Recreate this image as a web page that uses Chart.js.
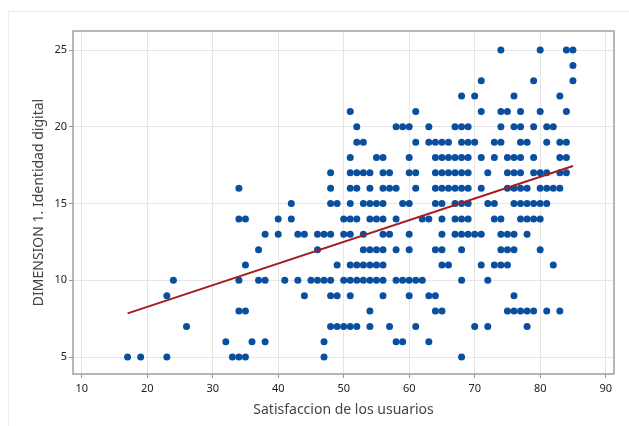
<!DOCTYPE html>
<html>
<head>
<meta charset="utf-8">
<script src="https://cdn.jsdelivr.net/npm/chart.js@4.4.1/dist/chart.umd.min.js"></script>
<style>
html,body{margin:0;padding:0;background:#fff;}
#wrap{position:relative;width:629px;height:426px;}
canvas{display:block;}
</style>
</head>
<body>
<div id="wrap"><canvas id="c" width="629" height="426"></canvas></div>
<script>
// Satisfaccion (x) values for each DIMENSION 1 level (y)
const xAtY25 = [74, 80, 84, 85];
const xAtY24 = [85];
const xAtY23 = [71, 79, 85];
const xAtY22 = [68, 70, 76, 83];
const xAtY21 = [51, 61, 71, 74, 75, 77, 80, 84];
const xAtY20 = [52, 58, 59, 60, 63, 67, 68, 69, 74, 76, 77, 79, 81, 82];
const xAtY19 = [52, 53, 61, 63, 64, 65, 66, 68, 69, 70, 73, 74, 77, 78, 81, 83, 84];
const xAtY18 = [51, 55, 56, 60, 64, 65, 66, 67, 68, 69, 71, 73, 75, 76, 77, 79, 83, 84];
const xAtY17 = [48, 51, 52, 53, 54, 56, 57, 60, 61, 64, 65, 66, 67, 68, 69, 72, 75, 76, 77, 79, 80, 81, 83, 84];
const xAtY16 = [34, 48, 51, 52, 54, 56, 57, 58, 61, 64, 65, 66, 67, 68, 69, 71, 75, 76, 77, 78, 80, 81, 82, 83];
const xAtY15 = [42, 48, 49, 51, 53, 54, 55, 56, 59, 60, 64, 65, 67, 68, 69, 72, 73, 76, 77, 78, 79, 80, 81];
const xAtY14 = [34, 35, 40, 42, 50, 51, 52, 54, 55, 56, 58, 62, 63, 65, 67, 68, 69, 73, 74, 77, 78, 79, 80];
const xAtY13 = [38, 40, 43, 44, 46, 47, 48, 50, 51, 53, 56, 57, 60, 65, 67, 68, 69, 70, 71, 74, 75, 76, 78];
const xAtY12 = [37, 46, 53, 54, 55, 56, 58, 60, 64, 65, 68, 74, 75, 76, 80];
const xAtY11 = [35, 49, 51, 52, 53, 54, 55, 56, 65, 66, 71, 73, 74, 75, 82];
const xAtY10 = [24, 34, 37, 38, 41, 43, 45, 46, 47, 48, 50, 51, 52, 53, 54, 55, 56, 58, 59, 60, 61, 62, 68, 72];
const xAtY9  = [23, 44, 48, 49, 51, 56, 60, 63, 64, 76];
const xAtY8  = [34, 35, 54, 64, 65, 75, 76, 77, 78, 79, 81, 83];
const xAtY7  = [26, 48, 49, 50, 51, 52, 54, 57, 61, 70, 72, 78];
const xAtY6  = [32, 36, 38, 47, 58, 59, 63];
const xAtY5  = [17, 19, 23, 33, 34, 35, 47, 68];

const yLevels = [25, 24, 23, 22, 21, 20, 19, 18, 17, 16, 15, 14, 13, 12, 11, 10, 9, 8, 7, 6, 5];
const xRows = [xAtY25, xAtY24, xAtY23, xAtY22, xAtY21, xAtY20, xAtY19, xAtY18, xAtY17, xAtY16,
               xAtY15, xAtY14, xAtY13, xAtY12, xAtY11, xAtY10, xAtY9, xAtY8, xAtY7, xAtY6, xAtY5];

// Fitted line end points
const fitX = [17, 85];
const fitY = [7.85, 17.45];

const xTickValues = [10, 20, 30, 40, 50, 60, 70, 80, 90];
const yTickValues = [5, 10, 15, 20, 25];

const xTitle = 'Satisfaccion de los usuarios';
const yTitle = 'DIMENSION 1. Identidad digital';

const points = [];
yLevels.forEach((yv, i) => xRows[i].forEach(xv => points.push({x: xv, y: yv})));
const fitPoints = fitX.map((xv, i) => ({x: xv, y: fitY[i]}));

const FONT = "'Noto Sans', 'Open Sans', sans-serif";

const framePlugin = {
  id: 'frames',
  beforeDraw(chart) {
    const ctx = chart.ctx;
    ctx.save();
    ctx.fillStyle = '#ffffff';
    ctx.fillRect(0, 0, chart.width, chart.height);
    ctx.strokeStyle = '#ececec';
    ctx.lineWidth = 1;
    ctx.beginPath();
    ctx.moveTo(8.5, chart.height);
    ctx.lineTo(8.5, 11.5);
    ctx.lineTo(chart.width, 11.5);
    ctx.stroke();
    ctx.restore();
  },
  beforeDatasetsDraw(chart) {
    const {ctx, chartArea: a} = chart;
    ctx.save();
    ctx.strokeStyle = '#a0a0a0';
    ctx.lineWidth = 1.5;
    ctx.strokeRect(a.left, a.top, a.right - a.left, a.bottom - a.top);
    ctx.restore();
  }
};

new Chart(document.getElementById('c'), {
  type: 'scatter',
  data: {
    datasets: [
      {
        label: 'puntos',
        data: points,
        pointRadius: 3.5,
        pointHoverRadius: 3.5,
        backgroundColor: '#0a4f9f',
        borderColor: '#0a4f9f',
        borderWidth: 0,
        order: 2
      },
      {
        type: 'line',
        label: 'ajuste',
        data: fitPoints,
        borderColor: '#a51e1e',
        borderWidth: 2,
        pointRadius: 0,
        fill: false,
        order: 1
      }
    ]
  },
  options: {
    responsive: false,
    animation: false,
    layout: {padding: {left: 0, right: 15, top: 31, bottom: 0}},
    plugins: {legend: {display: false}, tooltip: {enabled: false}},
    scales: {
      x: {
        type: 'linear',
        min: 8.67,
        max: 91.27,
        afterBuildTicks: s => { s.ticks = xTickValues.map(v => ({value: v})); },
        afterFit: s => { s.height = 52; },
        grid: {color: '#e6e6e6', lineWidth: 1, tickColor: '#999', tickLength: 4},
        border: {display: false},
        ticks: {color: '#222', font: {family: FONT, size: 11}, padding: 4, maxRotation: 0},
        title: {display: true, text: xTitle, color: '#444', font: {family: FONT, size: 14}, padding: {top: 0, bottom: 8}}
      },
      y: {
        type: 'linear',
        min: 3.9,
        max: 26.24,
        afterBuildTicks: s => { s.ticks = yTickValues.map(v => ({value: v})); },
        afterFit: s => { s.width = 73; },
        grid: {color: '#e6e6e6', lineWidth: 1, tickColor: '#999', tickLength: 4},
        border: {display: false},
        ticks: {color: '#222', font: {family: FONT, size: 11}, padding: 2},
        title: {display: true, text: yTitle, color: '#444', font: {family: FONT, size: 14}, padding: {top: 31, bottom: 0}}
      }
    }
  },
  plugins: [framePlugin]
});
</script>
</body>
</html>
